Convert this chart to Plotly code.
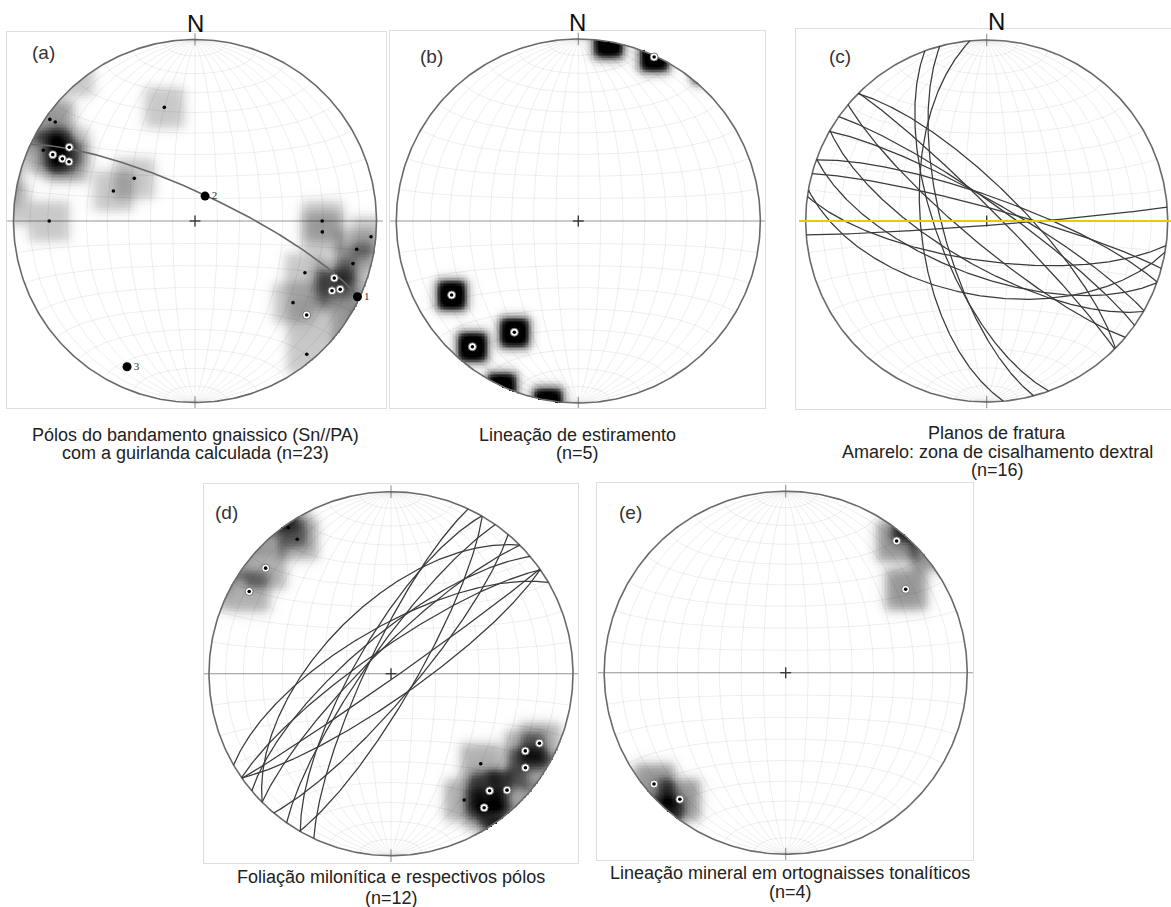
import numpy as np
import plotly.graph_objects as go

W, H = 1171, 907

# ---------------- data (degrees) ----------------
# (a) poles to gneissic banding (Sn//PA): trend / plunge
a_trend = [305.0, 305.3, 300.4, 295.0, 295.0, 295.1, 295.2, 344.9, 305.1, 290.2, 270.0,
           90.0, 94.9, 95.1, 99.9, 105.1, 115.2, 112.3, 117.0, 115.2, 129.8, 130.1, 140.0]
a_plunge = [2.7, 6.3, 20.8, 8.6, 14.6, 20.4, 24.3, 35.4, 56.4, 50.4, 20.8,
            30.6, 30.3, 3.0, 10.5, 10.8, 33.5, 18.2, 16.4, 12.6, 30.4, 20.7, 4.7]
a_ring = [0, 0, 1, 0, 1, 1, 1, 0, 0, 0, 0,
          0, 0, 0, 0, 0, 0, 1, 1, 1, 0, 1, 0]
# eigenvectors 1, 2, 3 (girdle = plane normal to eigenvector 3)
a_eig_trend = [115.0, 22.0, 205.0]
a_eig_plunge = [1.4, 78.0, 12.4]
a_eig_label = ["1", "2", "3"]

# (b) stretching lineation: trend / plunge
b_trend = [239.7, 209.9, 220.1, 9.6, 24.8]
b_plunge = [20.5, 30.2, 10.6, 1.2, 0.8]
b_ring = [1, 1, 1, 0, 1]

# (c) fracture planes: dip direction / dip
c_dipdir = [44.7, 220.0, 35.2, 29.7, 19.7, 15.2, 189.9, 187.8, 175.6, 250.0, 255.0, 264.7, 210.0, 200.0, 45.0]
c_dip = [75, 80, 82, 81, 79, 84, 56, 72, 88, 67, 70, 60, 70, 65, 85]
# dextral shear zone (yellow)
c_shear_dipdir = [180.0]
c_shear_dip = [90.0]

# (d) poles to mylonitic foliation: trend / plunge (planes drawn from them)
d_trend = [324.9, 325.1, 310.1, 300.1, 115.1, 119.9, 135.1, 125.0, 139.9, 135.1, 149.9, 145.2]
d_plunge = [2.2, 10.9, 10.9, 10.9, 10.9, 16.0, 30.8, 10.8, 17.0, 10.6, 20.9, 11.3]
d_ring = [0, 0, 1, 1, 1, 1, 0, 1, 1, 1, 0, 1]

# (e) mineral lineation: trend / plunge
e_trend = [40.1, 55.2, 229.8, 219.9]
e_plunge = [5.7, 20.6, 5.6, 10.0]
e_ring = [1, 1, 1, 1]

# captions
cap_a = ["Pólos do bandamento gnaissico (Sn//PA)", "com a guirlanda calculada (n=23)"]
cap_b = ["Lineação de estiramento", "(n=5)"]
cap_c = ["Planos de fratura", "Amarelo: zona de cisalhamento dextral", "(n=16)"]
cap_d = ["Foliação milonítica e respectivos pólos", "(n=12)"]
cap_e = ["Lineação mineral em ortognaisses tonalíticos", "(n=4)"]

# ---------------- geometry (pixels) ----------------
PANELS = {
    "a": dict(cx=195.0, cy=221.0, R=181.5, box=(7, 32, 386, 408), ax=("x", "y")),
    "b": dict(cx=578.3, cy=221.0, R=182.0, box=(390, 31, 765, 408), ax=("x2", "y2")),
    "c": dict(cx=986.7, cy=221.0, R=181.0, box=(796, 29, 1171, 409), ax=("x3", "y3")),
    "d": dict(cx=391.0, cy=673.7, R=182.0, box=(204, 484, 578, 863), ax=("x4", "y4")),
    "e": dict(cx=785.7, cy=672.7, R=181.5, box=(597, 483, 973, 860), ax=("x5", "y5")),
}


# ---------------- helpers ----------------
def proj(E, N, D):
    E, N, D = (np.asarray(v, float) for v in (E, N, D))
    f = 1.0 / np.sqrt(1.0 + D)
    return E * f, N * f


def line_vec(tr, pl):
    t = np.radians(np.asarray(tr, float))
    p = np.radians(np.asarray(pl, float))
    return np.cos(p) * np.sin(t), np.cos(p) * np.cos(t), np.sin(p)


def proj_line(tr, pl):
    return proj(*line_vec(tr, pl))


def great_circle(dd, dip, n=241):
    phi = np.radians(np.linspace(0, 180, n))
    d = np.radians(dd)
    de = np.radians(dip)
    s = (np.sin(d - np.pi / 2), np.cos(d - np.pi / 2), 0.0)
    v = (np.sin(d) * np.cos(de), np.cos(d) * np.cos(de), np.sin(de))
    E = np.cos(phi) * s[0] + np.sin(phi) * v[0]
    N = np.cos(phi) * s[1] + np.sin(phi) * v[1]
    D = np.clip(np.cos(phi) * s[2] + np.sin(phi) * v[2], 0, 1)
    return proj(E, N, D)


def join(segs):
    xs, ys = [], []
    for x, y in segs:
        xs += list(np.round(x, 5)) + [None]
        ys += list(np.round(y, 5)) + [None]
    return xs, ys


def net_grid(step=10):
    segs = []
    phi = np.radians(np.linspace(0, 180, 121))
    for dl in range(step, 91, step):
        de = np.radians(dl)
        for sg in ((1, -1) if dl < 90 else (1,)):
            E = np.sin(phi) * sg * np.cos(de)
            N = np.cos(phi)
            D = np.sin(phi) * np.sin(de)
            segs.append(proj(E, N, D))
    for al in range(step, 90, step):
        a = np.radians(al)
        for sg in (1, -1):
            E = np.sin(a) * np.cos(phi)
            N = sg * np.cos(a) * np.ones_like(phi)
            D = np.sin(a) * np.sin(phi)
            segs.append(proj(E, N, D))
    return join(segs)


def density(tr, pl, half=0.11, soft=0.035, n=241):
    g = np.linspace(-1, 1, n)
    X, Y = np.meshgrid(g, g)
    px, py = proj_line(tr, pl)
    r = np.hypot(px, py)
    sel = r > 0.7
    mx = -px[sel] / r[sel] * (2 - r[sel])
    my = -py[sel] / r[sel] * (2 - r[sel])
    allx = np.concatenate([px, mx])
    ally = np.concatenate([py, my])

    def k(u):
        return 0.5 * (1 - np.tanh((np.abs(u) - half) / soft))

    Z = np.zeros_like(X)
    for x0, y0 in zip(allx, ally):
        Z += k(X - x0) * k(Y - y0)
    Z[X ** 2 + Y ** 2 > 1.0] = np.nan
    return g, Z


GRAY = [[0, "#ffffff"], [0.2, "#cdcdcd"], [0.45, "#979797"], [0.7, "#444444"], [1, "#000000"]]

fig = go.Figure()

# ---------------- density (drawn first, under everything) ----------------
for key, tr, pl, zmax, half, soft in [("a", a_trend, a_plunge, 4.5, 0.11, 0.035),
                                      ("b", b_trend, b_plunge, 0.85, 0.08, 0.03),
                                      ("d", d_trend, d_plunge, 3.0, 0.11, 0.035),
                                      ("e", e_trend, e_plunge, 2.2, 0.11, 0.035)]:
    g, Z = density(tr, pl, half=half, soft=soft)
    xa, ya = PANELS[key]["ax"]
    fig.add_trace(go.Heatmap(x=g, y=g, z=Z, zmin=0, zmax=zmax, colorscale=GRAY,
                             showscale=False, hoverinfo="skip", zsmooth=False,
                             xaxis=xa, yaxis=ya))

gx, gy = net_grid(10)
tt = np.radians(np.linspace(0, 360, 361))

for key, P in PANELS.items():
    xa, ya = P["ax"]
    kw = dict(xaxis=xa, yaxis=ya, hoverinfo="skip", showlegend=False)
    # net grid
    fig.add_trace(go.Scatter(x=gx, y=gy, mode="lines",
                             line=dict(color="rgba(0,0,0,0.085)", width=0.8), **kw))
    # E-W line and N/S ticks
    fig.add_trace(go.Scatter(x=[-1.035, 1.035, None, 0, 0, None, 0, 0],
                             y=[0, 0, None, 0.965, 1.035, None, -0.965, -1.035],
                             mode="lines", line=dict(color="rgba(0,0,0,0.42)", width=1.1), **kw))
    # primitive
    fig.add_trace(go.Scatter(x=np.sin(tt), y=np.cos(tt), mode="lines",
                             line=dict(color="#6a6a6a", width=1.6), **kw))
    # centre cross
    fig.add_trace(go.Scatter(x=[-0.03, 0.03, None, 0, 0], y=[0, 0, None, -0.03, 0.03],
                             mode="lines", line=dict(color="#3a3a3a", width=1.4), **kw))


def add_points(key, tr, pl, ring, dot=3.6):
    xa, ya = PANELS[key]["ax"]
    x, y = proj_line(tr, pl)
    ring = np.asarray(ring, bool)
    fig.add_trace(go.Scatter(x=x[ring], y=y[ring], mode="markers",
                             marker=dict(size=8, color="white", line=dict(color="#6a6a6a", width=0.9)),
                             xaxis=xa, yaxis=ya, hoverinfo="skip", showlegend=False))
    fig.add_trace(go.Scatter(x=x, y=y, mode="markers",
                             marker=dict(size=dot, color="black"),
                             xaxis=xa, yaxis=ya, hoverinfo="skip", showlegend=False))


def add_planes(key, dd, dip, color="#3a3a3a", width=1.25):
    xa, ya = PANELS[key]["ax"]
    xs, ys = join([great_circle(a, b) for a, b in zip(dd, dip)])
    fig.add_trace(go.Scatter(x=xs, y=ys, mode="lines", line=dict(color=color, width=width),
                             xaxis=xa, yaxis=ya, hoverinfo="skip", showlegend=False))


# (a) girdle from eigenvector 3, points and eigenvectors
add_planes("a", [(a_eig_trend[2] + 180) % 360], [90 - a_eig_plunge[2]], color="#686868", width=1.6)
add_points("a", a_trend, a_plunge, a_ring)
ex, ey = proj_line(a_eig_trend, a_eig_plunge)
fig.add_trace(go.Scatter(x=ex, y=ey, mode="markers+text", text=a_eig_label,
                         textposition="middle right",
                         textfont=dict(family="Liberation Serif, serif", size=11, color="#333"),
                         marker=dict(size=9, color="black"),
                         xaxis="x", yaxis="y", hoverinfo="skip", showlegend=False))

# (b)
add_points("b", b_trend, b_plunge, b_ring)

# (c) fracture planes + yellow shear zone
add_planes("c", c_dipdir, c_dip)
for dd in c_shear_dipdir:
    st = np.radians(dd - 90)
    L = 1.035
    fig.add_trace(go.Scatter(x=[-L * np.sin(st), L * np.sin(st)], y=[-L * np.cos(st), L * np.cos(st)],
                             mode="lines", line=dict(color="#e3cc00", width=2.2),
                             xaxis="x3", yaxis="y3", hoverinfo="skip", showlegend=False))

# (d) planes from poles, then poles
add_planes("d", [(t + 180) % 360 for t in d_trend], [90 - p for p in d_plunge])
add_points("d", d_trend, d_plunge, d_ring)

# (e)
add_points("e", e_trend, e_plunge, e_ring)

# ---------------- axes ----------------
layout = dict(width=W, height=H, margin=dict(l=0, r=0, t=0, b=0),
              paper_bgcolor="white", plot_bgcolor="white", showlegend=False)
for key, P in PANELS.items():
    x0, y0, x1, y1 = P["box"]
    cx, cy, R = P["cx"], P["cy"], P["R"]
    xa, ya = P["ax"]
    xn = "xaxis" + xa[1:]
    yn = "yaxis" + ya[1:]
    common = dict(showgrid=False, zeroline=False, showticklabels=False, ticks="",
                  showline=True, mirror=True, linecolor="#dedede", linewidth=1,
                  fixedrange=True, autorange=False)
    layout[xn] = dict(domain=[x0 / W, x1 / W], range=[(x0 - cx) / R, (x1 - cx) / R],
                      anchor=ya, **common)
    layout[yn] = dict(domain=[1 - y1 / H, 1 - y0 / H], range=[(cy - y1) / R, (cy - y0) / R],
                      anchor=xa, **common)

FONT = "Liberation Sans, Arial, sans-serif"
ann = []


def txt(s, px, py, size, color="#222"):
    ann.append(dict(text=s, x=px / W, y=1 - py / H, xref="paper", yref="paper",
                    xanchor="center", yanchor="middle", showarrow=False,
                    font=dict(family=FONT, size=size, color=color)))


for s, px, py in [("N", 195, 23.7), ("N", 577.7, 22.3), ("N", 996.7, 21.3)]:
    txt(s, px, py, 24, "#111")
for s, px, py in [("(a)", 43.3, 52), ("(b)", 431, 56), ("(c)", 840, 56),
                  ("(d)", 226.7, 512.5), ("(e)", 630, 512.5)]:
    txt(s, px, py, 19, "#333")

for lines, px, ys in [(cap_a, 195, [435, 453]), (cap_b, 577, [435, 453]),
                      (cap_c, 997, [433, 452, 470]), (cap_d, 391, [877, 898]),
                      (cap_e, 790, [873, 892])]:
    for s, py in zip(lines, ys):
        txt(s, px, py, 18)

layout["annotations"] = ann
fig.update_layout(**layout)
fig.write_html("out.html", include_plotlyjs=True, config={"displayModeBar": False})
